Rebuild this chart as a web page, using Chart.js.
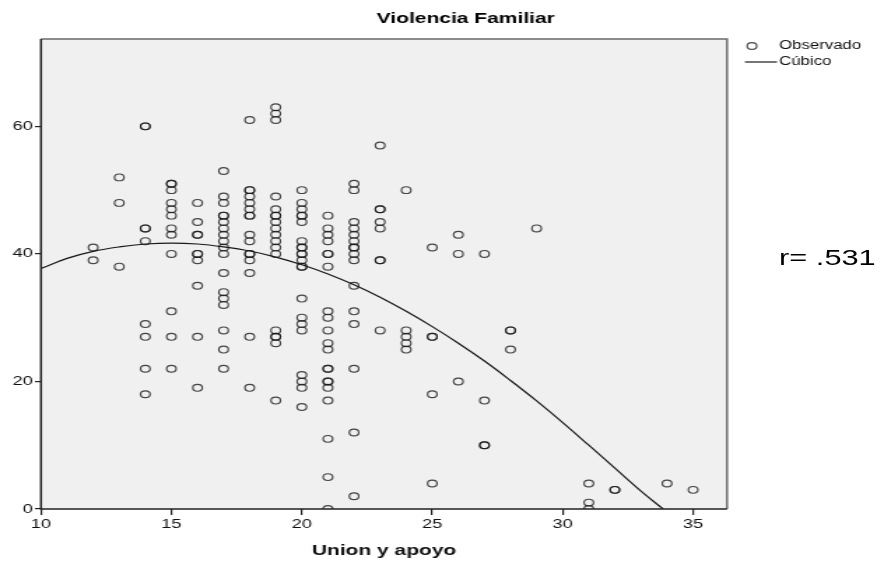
<!DOCTYPE html>
<html>
<head>
<meta charset="utf-8">
<script src="https://cdn.jsdelivr.net/npm/chart.js@4/dist/chart.umd.min.js"></script>
<style>
  html, body { margin: 0; padding: 0; background: #ffffff; overflow: hidden; }
  #stretch { position: absolute; left: 0; top: 0; width: 632px; height: 563px; transform: scaleX(1.3987); transform-origin: 0 0; }
  #r { position: absolute; left: 557px; top: 245px; font: 22px "Liberation Sans", Arial, sans-serif; color: #000; white-space: nowrap; }
</style>
</head>
<body>
<div id="stretch">
  <canvas id="c" width="632" height="563"></canvas>
  <div id="r">r= .531</div>
</div>
<script>
// Observed points: Union y apoyo (x) and Violencia Familiar (y)
const unionApoyo = [
  12,12,
  13,13,13,
  14,14,14,14,14,14,14,14,14,
  15,15,15,15,15,15,15,15,15,15,15,15,
  16,16,16,16,16,16,16,16,16,16,
  17,17,17,17,17,17,17,17,17,17,17,17,17,17,17,17,17,17,
  18,18,18,18,18,18,18,18,18,18,18,18,18,18,18,18,
  19,19,19,19,19,19,19,19,19,19,19,19,19,19,19,19,19,19,
  20,20,20,20,20,20,20,20,20,20,20,20,20,20,20,20,20,20,20,20,20,20,
  21,21,21,21,21,21,21,21,21,21,21,21,21,21,21,21,21,21,21,21,21,
  22,22,22,22,22,22,22,22,22,22,22,22,22,22,22,22,
  23,23,23,23,23,23,23,23,
  24,24,24,24,24,
  25,25,25,25,25,
  26,26,26,
  27,27,27,27,
  28,28,28,
  29,
  31,31,31,
  32,32,
  34,
  35
];
const violencia = [
  41,39,
  52,48,38,
  60,60,44,44,42,29,27,22,18,
  51,51,50,48,47,46,44,43,40,31,27,22,
  48,45,43,43,40,40,39,35,27,19,
  53,49,48,46,46,45,44,43,42,41,40,37,34,33,32,28,25,22,
  61,50,50,49,48,47,46,46,43,42,40,40,39,37,27,19,
  63,62,61,49,47,46,46,45,44,43,42,41,40,28,27,27,26,17,
  50,48,47,46,46,45,42,41,41,40,40,39,38,38,33,30,29,28,21,20,19,16,
  46,44,43,42,40,40,38,31,30,28,26,25,22,22,20,20,19,17,11,5,0,
  51,50,45,44,43,42,41,41,40,39,35,31,29,22,12,2,
  57,47,47,45,44,39,39,28,
  50,28,27,26,25,
  41,27,27,18,4,
  43,40,20,
  40,17,10,10,
  28,28,25,
  44,
  4,1,0,
  3,3,
  4,
  3
];
// Cubic fit curve
const curveX = [10,11,12,13,14,15,16,17,18,19,20,21,22,23,24,25,26,27,28,29,30,31,32,33,33.85];
const curveY = [37.7,39.3,40.4,41.1,41.55,41.7,41.55,41.1,40.45,39.5,38.3,36.85,35.15,33.2,31.0,28.6,26.0,23.2,20.15,16.95,13.55,10.0,6.4,2.8,0];
const xTicks = [10,15,20,25,30,35];
const yTicks = [0,20,40,60];
const chartTitle = 'Violencia Familiar';
const xTitle = 'Union y apoyo';
const seriesNames = ['Observado', 'Cúbico'];

const FONT = '"Liberation Sans", Arial, sans-serif';
const obsPoints = unionApoyo.map((x, i) => ({ x: x, y: violencia[i] }));
const curvePoints = curveX.map((x, i) => ({ x: x, y: curveY[i] }));

const frame = {
  id: 'frame',
  beforeDraw(chart) {
    const { ctx, chartArea: a } = chart;
    ctx.save();
    ctx.fillStyle = '#f0f0f0';
    ctx.fillRect(a.left, a.top, a.right - a.left, a.bottom - a.top);
    ctx.restore();
  },
  afterDraw(chart) {
    const { ctx, chartArea: a } = chart;
    ctx.save();
    ctx.lineWidth = 1.5;
    ctx.strokeStyle = '#6a6a6a';
    ctx.beginPath();
    ctx.moveTo(a.left, a.top); ctx.lineTo(a.right, a.top); ctx.lineTo(a.right, a.bottom);
    ctx.stroke();
    ctx.strokeStyle = '#222';
    ctx.beginPath();
    ctx.moveTo(a.left, a.top); ctx.lineTo(a.left, a.bottom); ctx.lineTo(a.right, a.bottom);
    ctx.stroke();
    // title
    ctx.fillStyle = '#000';
    ctx.font = 'bold 15px ' + FONT;
    ctx.textAlign = 'center';
    ctx.textBaseline = 'middle';
    ctx.fillText(chartTitle, 333, 19);
    // legend
    const d0 = chart.data.datasets[0], d1 = chart.data.datasets[1];
    ctx.strokeStyle = d0.borderColor;
    ctx.lineWidth = d0.borderWidth;
    ctx.beginPath();
    ctx.arc(537.6, 46, d0.pointRadius, 0, Math.PI * 2);
    ctx.stroke();
    ctx.strokeStyle = d1.borderColor;
    ctx.lineWidth = d1.borderWidth;
    ctx.beginPath();
    ctx.moveTo(532.6, 62); ctx.lineTo(555.5, 62);
    ctx.stroke();
    ctx.font = '12px ' + FONT;
    ctx.textAlign = 'left';
    ctx.fillStyle = '#111';
    ctx.fillText(d0.label, 557, 46);
    ctx.fillText(d1.label, 557, 62);
    ctx.restore();
  }
};

new Chart(document.getElementById('c'), {
  type: 'scatter',
  data: {
    datasets: [
      {
        label: seriesNames[0],
        data: obsPoints,
        pointRadius: 3.4,
        pointHoverRadius: 3.4,
        borderWidth: 1.15,
        borderColor: 'rgba(25,25,25,0.8)',
        backgroundColor: 'rgba(0,0,0,0)',
        clip: 0
      },
      {
        label: seriesNames[1],
        type: 'line',
        data: curvePoints,
        showLine: true,
        pointRadius: 0,
        borderWidth: 1.2,
        borderColor: '#1a1a1a',
        backgroundColor: 'rgba(0,0,0,0)',
        tension: 0.4,
        fill: false,
        clip: 0
      }
    ]
  },
  options: {
    responsive: false,
    animation: false,
    devicePixelRatio: 1,
    events: [],
    layout: { padding: { left: 0, right: 112.2, top: 39, bottom: 0 } },
    plugins: { legend: { display: false }, title: { display: false }, tooltip: { enabled: false } },
    scales: {
      x: {
        type: 'linear',
        min: 10,
        max: 36.3,
        afterFit(s) { s.height = 54; },
        afterBuildTicks(s) { s.ticks = xTicks.map(v => ({ value: v })); },
        border: { display: false },
        grid: { drawOnChartArea: false, drawTicks: true, tickLength: 6, color: '#222', lineWidth: 1.2 },
        ticks: { font: { family: FONT, size: 13 }, color: '#111', padding: 2, maxRotation: 0 },
        title: { display: true, text: xTitle, font: { family: FONT, size: 15, weight: 'bold' }, color: '#111', padding: { top: 4, bottom: 3 } }
      },
      y: {
        type: 'linear',
        min: 0,
        max: 73.7,
        afterFit(s) { s.width = 29.3; },
        afterBuildTicks(s) { s.ticks = yTicks.map(v => ({ value: v })); },
        border: { display: false },
        grid: { drawOnChartArea: false, drawTicks: true, tickLength: 4.3, color: '#222', lineWidth: 1.2 },
        ticks: { font: { family: FONT, size: 13 }, color: '#111', padding: 1.5 }
      }
    }
  },
  plugins: [frame]
});
</script>
</body>
</html>
